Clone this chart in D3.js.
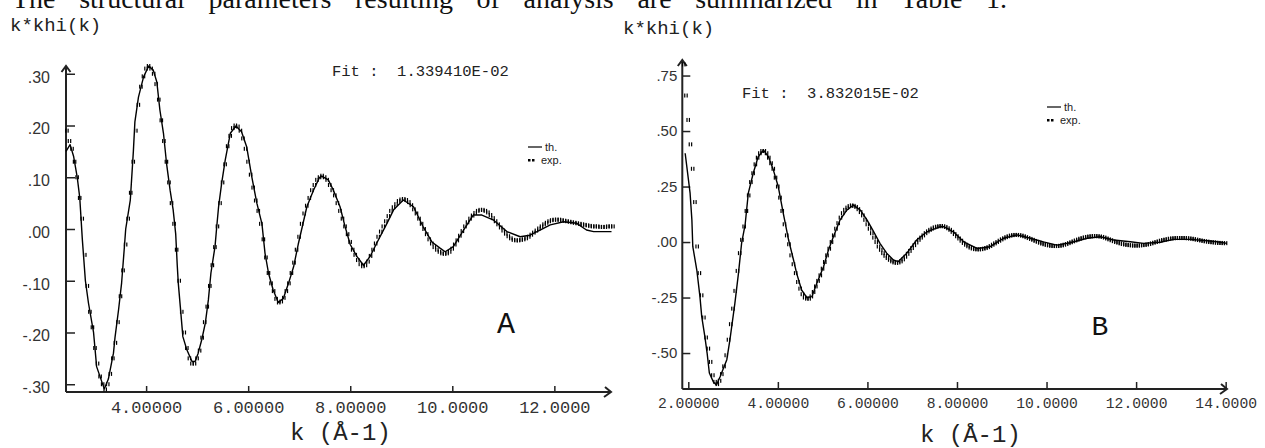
<!DOCTYPE html>
<html lang="en">
<head>
<meta charset="UTF-8">
<title>EXAFS k*khi(k) fits</title>
<style>
html,body{margin:0;width:1265px;height:448px;overflow:hidden;background:#fff;}
svg{display:block;}
.mono{font-family:"Liberation Mono","Courier New",monospace;}
.sans{font-family:"Liberation Sans",Arial,sans-serif;}
.tick text{fill:#333;}
</style>
</head>
<body>
<svg width="1265" height="448"></svg>
<script src="https://d3js.org/d3.v7.min.js"></script>
<script>
// ---- panel A data ----
const kThA = [2.43,2.51,2.58,2.65,2.70,2.75,2.81,2.87,2.97,3.03,3.18,3.26,3.36,3.39,3.46,3.52,3.57,3.60,3.69,3.75,3.78,3.85,3.95,4.05,4.14,4.21,4.27,4.34,4.40,4.47,4.53,4.58,4.61,4.63,4.67,4.72,4.80,4.90,4.96,5.02,5.09,5.16,5.22,5.27,5.35,5.38,5.42,5.48,5.55,5.65,5.76,5.87,5.97,6.07,6.17,6.27,6.33,6.40,6.49,6.59,6.69,6.79,6.89,6.98,7.15,7.28,7.40,7.44,7.57,7.67,7.80,7.90,8.00,8.13,8.26,8.39,8.52,8.72,8.85,9.04,9.24,9.43,9.60,9.76,9.86,10.02,10.22,10.41,10.58,10.81,11.07,11.33,11.52,11.72,11.92,12.18,12.44,12.63,12.77,13.12];
const thA = [0.15,0.163,0.14,0.10,0.06,-0.02,-0.10,-0.143,-0.20,-0.266,-0.309,-0.29,-0.24,-0.21,-0.156,-0.104,-0.04,0.0,0.056,0.15,0.207,0.255,0.294,0.315,0.307,0.284,0.23,0.185,0.127,0.075,0.037,-0.01,-0.07,-0.104,-0.15,-0.208,-0.234,-0.256,-0.256,-0.24,-0.214,-0.182,-0.137,-0.085,-0.034,0.0,0.043,0.088,0.133,0.185,0.199,0.188,0.159,0.101,0.05,0.01,-0.047,-0.086,-0.118,-0.142,-0.134,-0.105,-0.073,-0.03,0.043,0.075,0.10,0.102,0.095,0.075,0.043,0.004,-0.03,-0.053,-0.07,-0.053,-0.027,0.011,0.037,0.056,0.043,0.004,-0.025,-0.037,-0.044,-0.034,-0.002,0.027,0.027,0.017,-0.005,-0.015,-0.012,-0.002,0.008,0.014,0.011,-0.002,-0.005,-0.005];
const expStartA = 2.45;
const expA = [0.19,0.17,0.155,0.13,0.10,0.06,0.02,-0.05,-0.11,-0.16,-0.19,
  -0.23,-0.26,-0.285,-0.30,-0.31,-0.30,-0.28,-0.25,-0.22,-0.18,-0.13,-0.08,-0.03,0.02,0.07,0.13,0.19,0.24,0.275,0.295,
  0.31,0.315,0.31,0.30,0.28,0.25,0.21,0.17,0.13,0.09,0.05,0.01,-0.04,-0.10,-0.16,-0.20,-0.23,-0.25,-0.26,-0.26,
  -0.25,-0.235,-0.21,-0.18,-0.15,-0.11,-0.07,-0.035,0.005,0.05,0.09,0.125,0.16,0.18,0.195,0.2,0.198,0.19,0.175,0.155,
  0.13,0.105,0.08,0.055,0.035,0.01,-0.02,-0.055,-0.085,-0.105,-0.12,-0.135,-0.142,-0.14,-0.133,-0.12,-0.105,-0.085,-0.065,-0.04,
  -0.015,0.01,0.03,0.045,0.06,0.075,0.085,0.095,0.1,0.103,0.1,0.095,0.085,0.075,0.065,0.05,0.035,0.02,0.005,-0.01,
  -0.025,-0.04,-0.05,-0.06,-0.068,-0.072,-0.07,-0.063,-0.052,-0.04,-0.028,-0.015,-0.005,0.005,0.015,0.025,0.035,0.042,0.048,0.054,
  0.057,0.058,0.056,0.052,0.046,0.038,0.03,0.02,0.01,0.0,-0.01,-0.02,-0.028,-0.035,-0.04,-0.044,-0.047,-0.048,-0.047,-0.044,
  -0.038,-0.03,-0.022,-0.013,-0.004,0.005,0.013,0.02,0.026,0.031,0.035,0.037,0.037,0.035,0.032,0.027,0.021,0.015,0.009,0.003,
  -0.003,-0.009,-0.014,-0.018,-0.021,-0.022,-0.022,-0.021,-0.02,-0.018,-0.015,-0.011,-0.007,-0.003,0.001,0.005,0.009,0.012,0.015,0.017,
  0.018,0.018,0.018,0.017,0.016,0.015,0.014,0.013,0.012,0.011,0.01,0.009,0.008,0.007,0.006,0.005,0.005,0.005,0.004,0.004,
  0.004,0.005,0.005,0.005];
const xTicksA = [4,6,8,10,12];
const xLabelsA = ["4.00000","6.00000","8.00000","10.0000","12.0000"];
const yTicksA = [0.3,0.2,0.1,0,-0.1,-0.2,-0.3];
const yLabelsA = [".30",".20",".10",".00","-.10","-.20","-.30"];

// ---- panel B data ----
const kThB = [1.93,2.04,2.08,2.10,2.19,2.26,2.30,2.37,2.42,2.47,2.56,2.63,2.71,2.86,2.93,3.04,3.12,3.19,3.27,3.34,3.45,3.56,3.68,3.79,3.90,4.01,4.12,4.24,4.35,4.42,4.53,4.65,4.76,4.87,5.02,5.13,5.24,5.39,5.54,5.69,5.84,5.99,6.12,6.28,6.43,6.58,6.69,6.88,7.10,7.33,7.63,7.70,7.92,8.15,8.45,8.74,9.04,9.34,9.64,9.93,10.23,10.53,10.91,11.20,11.50,11.87,12.17,12.54,12.84,13.21,13.59,13.81,14.03];
const thB = [0.40,0.22,0.10,-0.02,-0.126,-0.246,-0.336,-0.426,-0.50,-0.59,-0.63,-0.644,-0.607,-0.53,-0.44,-0.276,-0.141,-0.006,0.08,0.22,0.31,0.384,0.414,0.384,0.324,0.249,0.13,0.009,-0.081,-0.141,-0.216,-0.25,-0.246,-0.186,-0.111,-0.036,0.024,0.10,0.144,0.167,0.144,0.10,0.054,-0.006,-0.05,-0.081,-0.088,-0.05,0.009,0.046,0.069,0.069,0.046,0.001,-0.029,-0.021,0.017,0.032,0.017,0.001,-0.014,-0.003,0.017,0.024,0.009,0.001,-0.006,-0.001,0.012,0.012,0.006,0.001,-0.006];
const expStartB = 1.90;
const expB = [0.80,0.66,
  0.55,0.44,0.33,0.18,-0.02,-0.14,-0.24,-0.34,-0.43,-0.48,-0.54,-0.60,-0.63,-0.64,-0.625,-0.595,-0.56,-0.51,-0.44,-0.37,
  -0.30,-0.22,-0.13,-0.05,0.01,0.07,0.14,0.21,0.27,0.31,0.35,0.38,0.40,0.41,0.41,0.40,0.38,0.355,0.33,0.29,
  0.25,0.20,0.14,0.08,0.03,-0.01,-0.06,-0.10,-0.14,-0.18,-0.21,-0.235,-0.25,-0.255,-0.255,-0.245,-0.225,-0.20,-0.175,-0.15,
  -0.12,-0.09,-0.06,-0.03,0.0,0.03,0.06,0.085,0.11,0.13,0.145,0.155,0.162,0.165,0.163,0.158,0.148,0.135,0.12,0.10,
  0.08,0.06,0.04,0.02,0.0,-0.02,-0.035,-0.05,-0.062,-0.072,-0.08,-0.087,-0.092,-0.094,-0.092,-0.087,-0.078,-0.066,-0.053,-0.04,
  -0.027,-0.014,-0.002,0.01,0.02,0.03,0.04,0.048,0.055,0.061,0.066,0.069,0.071,0.072,0.071,0.068,0.062,0.055,0.046,0.036,
  0.026,0.016,0.006,-0.004,-0.012,-0.019,-0.025,-0.029,-0.032,-0.033,-0.033,-0.032,-0.03,-0.027,-0.023,-0.018,-0.012,-0.006,0.0,0.006,
  0.012,0.017,0.022,0.026,0.029,0.031,0.032,0.032,0.031,0.029,0.026,0.022,0.018,0.014,0.01,0.005,0.001,-0.003,-0.007,-0.01,
  -0.013,-0.015,-0.017,-0.018,-0.018,-0.018,-0.017,-0.015,-0.012,-0.009,-0.005,-0.001,0.003,0.007,0.011,0.015,0.018,0.021,0.023,0.025,
  0.026,0.027,0.027,0.026,0.025,0.023,0.02,0.016,0.012,0.008,0.004,0.0,-0.003,-0.006,-0.009,-0.011,-0.013,-0.014,-0.015,-0.016,
  -0.016,-0.016,-0.015,-0.014,-0.013,-0.011,-0.009,-0.006,-0.003,0.0,0.003,0.006,0.009,0.011,0.013,0.015,0.016,0.017,0.018,0.018,
  0.018,0.018,0.018,0.017,0.016,0.015,0.013,0.011,0.009,0.007,0.005,0.003,0.002,0.0,-0.001,-0.002,-0.003,-0.004,-0.004,-0.005,
  -0.005];
const xTicksB = [2,4,6,8,10,12,14];
const xLabelsB = ["2.00000","4.00000","6.00000","8.00000","10.0000","12.0000","14.0000"];
const yTicksB = [0.75,0.5,0.25,0,-0.25,-0.5];
const yLabelsB = [".75",".50",".25",".00","-.25","-.50"];

const expStep = 0.05;
const fitA = "Fit :  1.339410E-02", fitB = "Fit :  3.832015E-02";
const caption = "The structural parameters resulting of analysis are summarized in Table 1.";

const svg = d3.select("svg");

// running text line cut at the top of the page, justified
const cap = svg.append("text").attr("x",12).attr("y",8)
  .style("font-family","'Liberation Serif','Times New Roman',serif").style("font-size","28px")
  .attr("fill","#111").text(caption);
{
  const nat = cap.node().getComputedTextLength();
  const gaps = caption.split(" ").length - 1;
  cap.attr("word-spacing", (1007 - 12 - nat) / gaps);
}

const panels = [
  {kTh:kThA, th:thA, exp:expA, k0:expStartA, xd:[2.43,13.11], xr:[66,611], yd:[-0.315,0.315], yr:[392,66],
   xt:xTicksA, xl:xLabelsA, yt:yTicksA, yl:yLabelsA, xfs:17, yfs:16, ypad:16, ydy:"0.53em", ytick:9, xtick:6,
   title:[10,31,19], fit:fitA, fitPos:[332,76], fitFs:15.5, leg:[528,147], letter:"A", letterPos:[506,333,30],
   xtitle:[290,440]},
  {kTh:kThB, th:thB, exp:expB, k0:expStartB, xd:[1.866,14.03], xr:[682.3,1227], yd:[-0.662,0.82], yr:[389,60],
   xt:xTicksB, xl:xLabelsB, yt:yTicksB, yl:yLabelsB, xfs:14.7, yfs:15, ypad:5, ydy:"0.33em", ytick:8, xtick:7,
   title:[623,34,19], fit:fitB, fitPos:[742,98], fitFs:15.5, leg:[1047,107], letter:"B", letterPos:[1100,335,28],
   xtitle:[920,442]}
];

panels.forEach(p=>{
  const x = d3.scaleLinear().domain(p.xd).range(p.xr);
  const y = d3.scaleLinear().domain(p.yd).range(p.yr);
  const g = svg.append("g");
  const x0 = p.xr[0], x1 = p.xr[1], yb = p.yr[0], yt = p.yr[1];

  // y axis: ticks inward, labels left
  g.append("g").attr("transform",`translate(${x0},0)`)
    .call(d3.axisLeft(y).tickValues(p.yt).tickSizeInner(-p.ytick).tickSizeOuter(0).tickPadding(p.ypad)
      .tickFormat((d,i)=>p.yl[i]))
    .call(a=>{
      a.select(".domain").remove();
      a.selectAll(".tick line").attr("stroke","#222").attr("stroke-width",1.5);
      a.selectAll(".tick text").attr("class","sans").style("font-size",p.yfs+"px").attr("dy",p.ydy);
    });

  // x axis: ticks upward
  g.append("g").attr("transform",`translate(0,${yb})`)
    .call(d3.axisBottom(x).tickValues(p.xt).tickSizeInner(-p.xtick).tickSizeOuter(0).tickPadding(8.6)
      .tickFormat((d,i)=>p.xl[i]))
    .call(a=>{
      a.select(".domain").remove();
      a.selectAll(".tick line").attr("stroke","#222").attr("stroke-width",1.5);
      a.selectAll(".tick text").attr("class","mono").style("font-size",p.xfs+"px");
    });

  // axis lines with open arrowheads
  g.append("path").attr("fill","none").attr("stroke","#222").attr("stroke-width",2)
    .attr("d",`M${x0},${yb}V${yt}M${x0-4.5},${yt+6}L${x0},${yt}L${x0+4.5},${yt+6}`);
  g.append("path").attr("fill","none").attr("stroke","#222").attr("stroke-width",2)
    .attr("d",`M${x0},${yb}H${x1}M${x1-6},${yb-5}L${x1},${yb}L${x1-7},${yb+5}`);

  // theory line
  const pts = p.kTh.map((k,i)=>[k,p.th[i]]);
  g.append("path").datum(pts).attr("fill","none").attr("stroke","#000").attr("stroke-width",1.4)
    .attr("stroke-linejoin","round")
    .attr("d",d3.line().x(d=>x(d[0])).y(d=>y(d[1])));

  // experimental points: small double-bar markers
  const ex = p.exp.map((v,i)=>[p.k0 + i*expStep, v]);
  const mk = g.append("g").attr("fill","#000");
  ex.forEach(d=>{
    const cx = x(d[0]), cy = y(d[1]);
    mk.append("rect").attr("x",cx-1.9).attr("y",cy-2).attr("width",1.2).attr("height",4);
    mk.append("rect").attr("x",cx+0.5).attr("y",cy-2).attr("width",1.2).attr("height",4);
  });

  // texts
  g.append("text").attr("class","mono").attr("x",p.title[0]).attr("y",p.title[1])
    .style("font-size",p.title[2]+"px").attr("fill","#222").text("k*khi(k)");
  g.append("text").attr("class","mono").attr("x",p.fitPos[0]).attr("y",p.fitPos[1])
    .style("font-size",p.fitFs+"px").style("white-space","pre").attr("xml:space","preserve")
    .attr("fill","#222").text(p.fit);
  g.append("text").attr("class","mono").attr("x",p.letterPos[0]).attr("y",p.letterPos[1])
    .attr("text-anchor","middle").style("font-size",p.letterPos[2]+"px").attr("fill","#111").text(p.letter);
  g.append("text").attr("class","mono").attr("x",p.xtitle[0]).attr("y",p.xtitle[1])
    .style("font-size","24px").style("white-space","pre").attr("fill","#222").text("k (Å-1)");

  // legend
  const [lx,ly] = p.leg;
  g.append("line").attr("x1",lx).attr("x2",lx+14).attr("y1",ly).attr("y2",ly).attr("stroke","#000").attr("stroke-width",1.2);
  g.append("text").attr("class","sans").attr("x",lx+17).attr("y",ly+4).style("font-size","11px").attr("fill","#222").text("th.");
  [0,4].forEach(o=>g.append("rect").attr("x",lx+o).attr("y",ly+12).attr("width",2.5).attr("height",2.5).attr("fill","#000"));
  g.append("text").attr("class","sans").attr("x",lx+13).attr("y",ly+17).style("font-size","11px").attr("fill","#222").text("exp.");
});
</script>
</body>
</html>
